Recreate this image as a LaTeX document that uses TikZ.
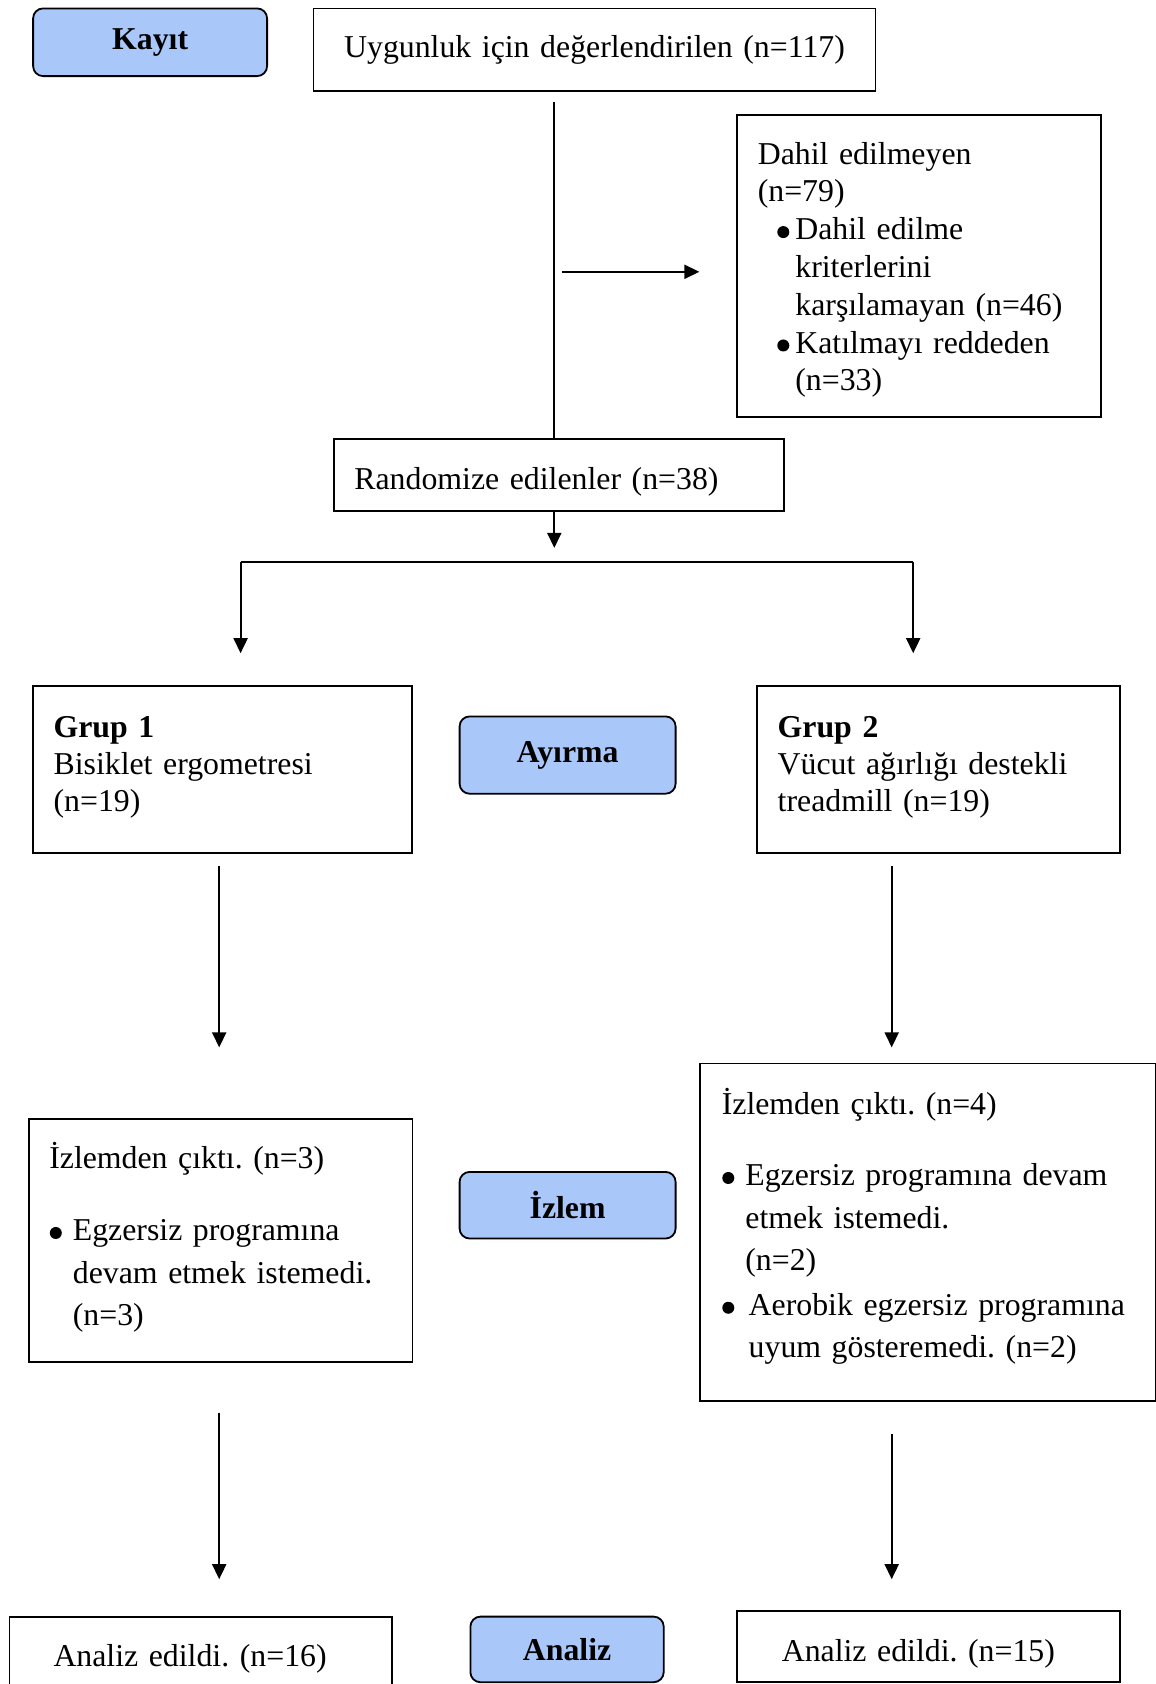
\documentclass[tikz,border=0pt]{standalone}
\usepackage{fontspec}
\setmainfont{Liberation Serif}
\usepackage{xcolor}
\usetikzlibrary{arrows.meta, positioning, calc}

\definecolor{phaseblue}{RGB}{170,199,250}
\newcommand{\fs}{\fontsize{31.8}{37.8}\selectfont}
\newcommand{\bul}[2]{\hspace*{#1}\makebox[#2][l]{\tikz[baseline=0pt]\fill (6pt,7.7pt) circle[radius=6pt];}}
\frenchspacing

\tikzset{
  box/.style={draw, line width=1.8pt, inner ysep=0pt, anchor=north west, align=left, font=\fs},
  oneline/.style={text height=29pt, text depth=0pt},
  phase/.style={draw, line width=1.8pt, rounded corners=10pt, fill=phaseblue, anchor=north west,
    inner sep=0pt, align=center, font=\fs\bfseries},
  arr/.style={line width=1.8pt, -{Triangle[length=15pt, width=14pt]}},
  link/.style={line width=1.8pt}
}

\begin{document}
\begin{tikzpicture}[x=1pt, y=-1pt]
  \useasboundingbox (0,0) rectangle (1156,1684);

  % phase labels
  \node[phase, minimum width=234pt, minimum height=67.7pt] (kayit) at (32.2,7.5) {Kayıt};
  \node[phase, minimum width=216pt, minimum height=77.3pt] (ayirma) at (458.7,715.5) {Ayırma};
  \node[phase, minimum width=216pt, minimum height=66.6pt] (izlem) at (458.7,1171) {İzlem};
  \node[phase, minimum width=193.3pt, minimum height=65.6pt] (analiz) at (469.5,1615.7) {Analiz};

  % enrolment
  \node[box, inner xsep=0pt, text width=562pt, align=center, minimum height=82.7pt] (uygun) at (312.6,7.5)
    {Uygunluk için değerlendirilen (n=117)};
  \node[box, inner xsep=21pt, text width=322pt, minimum height=302pt] (dahil) at (735.9,113.9)
    {\rule{0pt}{30.3pt}Dahil edilmeyen\\
     (n=79)\\
     \bul{19.5pt}{18.1pt}Dahil edilme\\
     \hspace*{37.6pt}kriterlerini\\
     \hspace*{37.6pt}karşılamayan (n=46)\\
     \bul{19.5pt}{18.1pt}Katılmayı reddeden\\
     \hspace*{37.6pt}(n=33)};
  \node[box, oneline, inner xsep=20.5pt, text width=409pt, minimum height=72pt] (rand) at (333,438.3)
    {Randomize edilenler (n=38)};

  % allocation
  \node[box, inner xsep=20.5pt, text width=338pt, minimum height=166.5pt,
    font=\fontsize{31.8}{36.8}\selectfont] (grup1) at (32.2,685.4)
    {\textbf{Grup 1}\\
     Bisiklet ergometresi\\
     (n=19)\rule[-11.2pt]{0pt}{0pt}};
  \node[box, inner xsep=20.5pt, text width=322pt, minimum height=166.5pt,
    font=\fontsize{31.8}{36.8}\selectfont] (grup2) at (756.3,685.4)
    {\textbf{Grup 2}\\
     Vücut ağırlığı destekli\\
     treadmill (n=19)\rule[-11.2pt]{0pt}{0pt}};

  % follow-up
  \node[box, inner xsep=20.5pt, text width=342.6pt, minimum height=242.8pt,
    font=\fontsize{31.8}{42.4}\selectfont] (izlem1) at (27.9,1118.3)
    {İzlemden çıktı. (n=3)\\[29.6pt]
     \bul{0.5pt}{23.1pt}Egzersiz programına\\
     \hspace*{23.6pt}devam etmek istemedi.\\
     \hspace*{23.6pt}(n=3)\rule[-13.3pt]{0pt}{0pt}};
  \node[box, inner xsep=21.5pt, text width=412.5pt, minimum height=337.3pt,
    font=\fontsize{31.8}{42.4}\selectfont] (izlem2) at (699.4,1062.5)
    {İzlemden çıktı. (n=4)\\[28.5pt]
     \bul{0.5pt}{23.1pt}Egzersiz programına devam\\
     \hspace*{23.6pt}etmek istemedi.\\
     \hspace*{23.6pt}(n=2)\\[2.6pt]
     \bul{0.5pt}{26.4pt}Aerobik egzersiz programına\\
     \hspace*{26.9pt}uyum gösteremedi. (n=2)\rule[-17.7pt]{0pt}{0pt}};

  % analysis
  \node[box, oneline, inner xsep=44pt, text width=294.4pt, minimum height=71pt] (anal1) at (8.6,1615.7)
    {Analiz edildi. (n=16)};
  \node[box, oneline, inner xsep=45pt, text width=293.5pt, minimum height=70.9pt] (anal2) at (735.9,1610.4)
    {Analiz edildi. (n=15)};

  % connectors
  \coordinate (top) at (554.3,102);
  \coordinate (side) at (561.9,271.8);
  \coordinate (split) at (554.3,547.9);
  \coordinate (bl) at (240.6,561.9);
  \coordinate (br) at (913.2,561.9);
  \coordinate (l1) at (219.2,865.9);
  \coordinate (l2) at (219.2,1047.4);
  \coordinate (l3) at (219.2,1412.7);
  \coordinate (l4) at (219.2,1579.2);
  \coordinate (r1) at (891.7,865.9);
  \coordinate (r2) at (891.7,1047.4);
  \coordinate (r3) at (891.7,1434.2);
  \coordinate (r4) at (891.7,1579.2);

  \draw[link] (top) -- (top |- rand.north);
  \draw[arr] (side) -- ($(side -| dahil.west)+(-36.5,0)$);
  \draw[arr] (top |- rand.south) -- (split);
  \draw[link] (bl) -- (br);
  \draw[arr] (bl) -- ($(bl |- grup1.north)+(0,-32.2)$);
  \draw[arr] (br) -- ($(br |- grup2.north)+(0,-32.2)$);
  \draw[arr] (l1) -- (l2);
  \draw[arr] (r1) -- (r2);
  \draw[arr] (l3) -- (l4);
  \draw[arr] (r3) -- (r4);
\end{tikzpicture}
\end{document}
